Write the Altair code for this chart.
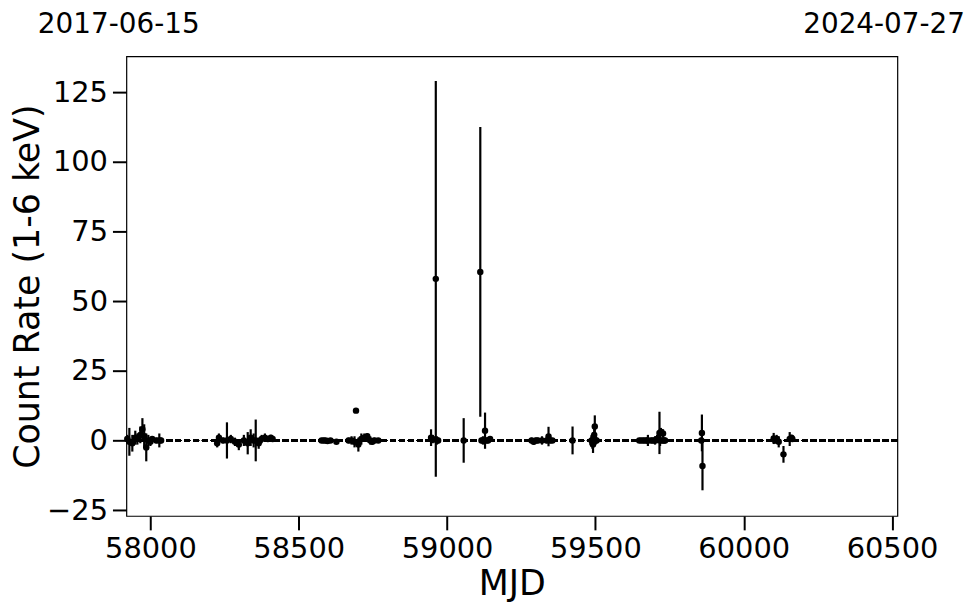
import altair as alt
import pandas as pd

# Observation epochs (MJD), count rates (1-6 keV) and 1-sigma errors
mjd = [
    57922, 57929, 57939, 57949, 57956, 57966, 57973, 57979, 57986, 57993, 58000, 58006, 58020, 58030, 58036,
    58225, 58231, 58245, 58258, 58271, 58285, 58298, 58315, 58328, 58338, 58348, 58355, 58365, 58375, 58386, 58396, 58406, 58412,
    58577, 58584, 58590, 58597, 58607, 58627, 58668, 58678, 58688, 58693, 58701, 58711, 58721, 58731, 58741, 58748, 58755, 58768,
    58946, 58952, 58962, 58966, 58970, 59056, 59112, 59116, 59121, 59128, 59132, 59138, 59145,
    59285, 59292, 59299, 59306, 59320, 59336, 59342, 59348, 59355, 59423,
    59487, 59490, 59492, 59494, 59496, 59498, 59501, 59504,
    59648, 59655, 59662, 59668, 59675, 59677, 59688, 59695, 59701, 59708, 59716, 59718, 59721, 59725, 59728, 59731, 59735,
    59857, 59859, 59861,
    60101, 60106, 60111, 60118, 60134, 60155, 60161, 60164,
]
rate = [
    0.5, -0.5, -1, 1, 0.5, 2, 4, 1.5, -2.5, 0, -0.5, 0.5, 0, 0, 0,
    -1, 1, 0, 0, 0.5, -0.5, -1.5, 0, -1, 1, 0, 0, -1, 0.5, 1, 0.5, 1, 0.5,
    0, 0, 0, -0.2, 0, -0.5, 0, 0, -0.5, 10.7, -1.5, 0.5, 1, 1.5, 0, -0.5, 0, 0,
    1, 0.5, 58, 0, 0, 0, 60.5, 0, 0, 3.5, 0, 0, 0.5,
    0, -0.5, 0, 0, 0, 0, 1.4, 0, 0, 0,
    0, -1, -1.5, 1, 2, 5, 0, 0,
    0, 0, 0, 0, 0, 0, 0, 0, 0, 0.5, 2.7, 0, 3, 0, 2.5, 0, 0,
    0, 2.7, -9.2,
    0.7, 0, 0.5, -0.5, -5, 0.5, 1, 0.5,
]
err = [
    1.5, 5, 3, 2.5, 2, 3, 4, 4.3, 5, 2, 1.5, 1, 1, 2.5, 1,
    1.5, 1.5, 1, 6.5, 1.5, 1.5, 2, 2, 4, 3, 2.5, 7.5, 2, 1.5, 1.5, 1, 1, 1,
    0.5, 0.5, 0.5, 0.5, 0.5, 0.8, 1, 1.5, 2, 0.5, 2.5, 2, 1.5, 1, 1.5, 1, 1, 0.5,
    3, 1.5, 71, 1.5, 1, 8, 52, 1, 1.5, 6.5, 1, 1, 1,
    1, 1, 1, 1, 1.5, 1, 3.5, 1, 0.5, 5,
    2, 2, 3, 2, 3, 4, 1.5, 1,
    0.5, 0.5, 0.5, 0.5, 1, 2, 1, 1, 1.5, 1.5, 7.6, 2, 1.5, 1, 1.5, 1, 1,
    1, 6.6, 8.7,
    2, 1, 1.5, 2, 3, 2.5, 1, 0.5,
]

x_ticks = [58000, 58500, 59000, 59500, 60000, 60500]
y_ticks = [-25, 0, 25, 50, 75, 100, 125]
x_domain = [57919, 60518]
y_domain = [-27.1, 137.9]
date_labels = ["2017-06-15", "2024-07-27"]

df = pd.DataFrame({"mjd": mjd, "rate": rate, "err": err})

FONT = "DejaVu Sans"
W, H = 775, 462

x_enc = alt.X("mjd:Q", scale=alt.Scale(domain=x_domain, nice=False, zero=False),
              axis=alt.Axis(title="MJD", values=x_ticks, format="d"))
y_enc = alt.Y("lo:Q", scale=alt.Scale(domain=y_domain, nice=False, zero=False),
              axis=alt.Axis(title="Count Rate (1-6 keV)", values=y_ticks))

base = alt.Chart(df).transform_calculate(
    lo="datum.rate - datum.err", hi="datum.rate + datum.err"
)

zero_line = alt.Chart(df).mark_rule(color="black", strokeDash=[6, 3], strokeWidth=1.5).encode(
    y=alt.datum(0, scale=alt.Scale(domain=y_domain, nice=False, zero=False))
)

bars = base.mark_rule(color="black", strokeWidth=2.2).encode(
    x=x_enc, y=y_enc, y2="hi:Q"
)

points = base.mark_circle(color="black", size=42, opacity=1).encode(
    x=alt.X("mjd:Q"), y=alt.Y("rate:Q")
)

lab_df = pd.DataFrame({"label": date_labels, "side": ["left", "right"]})
left_lab = alt.Chart(lab_df).transform_filter("datum.side == 'left'").mark_text(
    align="left", baseline="alphabetic", font=FONT, fontSize=28, color="black"
).encode(text="label:N", x=alt.value(-89), y=alt.value(-23))
right_lab = alt.Chart(lab_df).transform_filter("datum.side == 'right'").mark_text(
    align="right", baseline="alphabetic", font=FONT, fontSize=28, color="black"
).encode(text="label:N", x=alt.value(843), y=alt.value(-23))

chart = alt.layer(zero_line, bars, points, left_lab, right_lab).properties(
    width=W, height=H,
    autosize=alt.AutoSizeParams(type="none"),
    padding={"left": 119, "top": 47, "right": 75, "bottom": 92},
).configure_view(
    stroke="black", strokeWidth=1.2
).configure_axis(
    grid=False, domain=False,
    tickSize=14, tickWidth=2, tickColor="black",
    labelPadding=5, labelFont=FONT, labelFontSize=29, labelColor="black",
    titleFont=FONT, titleFontSize=35, titleColor="black", titleFontWeight="normal",
).configure_axisY(titlePadding=1).configure_axisX(titlePadding=3)

chart.save("out.html", embed_options={"renderer": "svg", "actions": False})
